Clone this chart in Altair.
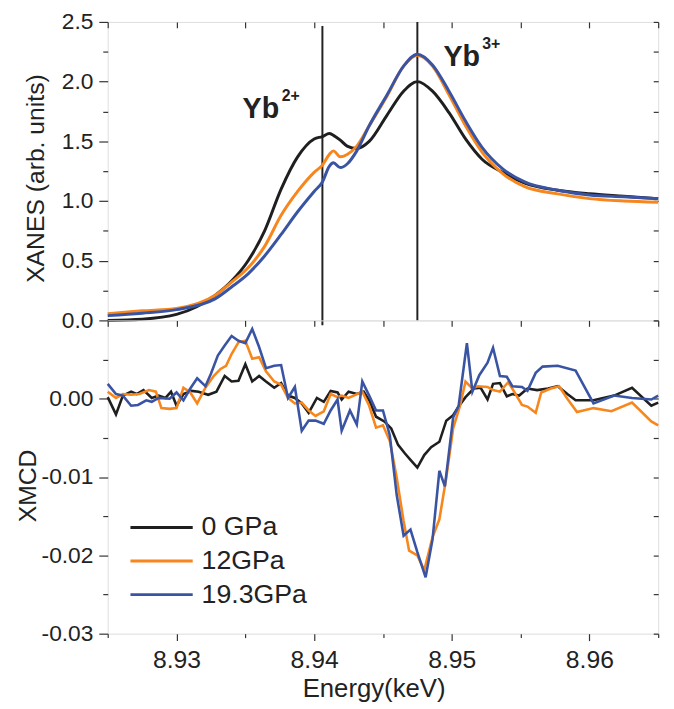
import altair as alt
import pandas as pd

FONT = "Liberation Sans"
SERIES = ["0 GPa", "12GPa", "19.3GPa"]
COLORS = ["#1f1f1f", "#f7861c", "#3a54a4"]

# ---------------- XANES (top panel) ----------------
XANES_E = [8.925, 8.9275, 8.930, 8.9328, 8.934, 8.9352, 8.9364, 8.9376, 8.9388, 8.940,
           8.9406, 8.9411, 8.9414, 8.9419, 8.9424, 8.9431, 8.944, 8.9453, 8.9465, 8.9475,
           8.9486, 8.9498, 8.951, 8.9522, 8.9537, 8.9553, 8.9577, 8.960, 8.9625, 8.965]
XANES_0 = [0.0, 0.01, 0.05, 0.21, 0.33, 0.50, 0.75, 1.10, 1.37, 1.52,
           1.54, 1.565, 1.55, 1.51, 1.46, 1.44, 1.50, 1.72, 1.92, 2.00,
           1.92, 1.74, 1.52, 1.35, 1.24, 1.15, 1.09, 1.06, 1.04, 1.02]
XANES_12 = [0.055, 0.08, 0.10, 0.21, 0.32, 0.44, 0.62, 0.88, 1.08, 1.24,
            1.30, 1.39, 1.42, 1.37, 1.39, 1.46, 1.63, 1.88, 2.13, 2.22,
            2.13, 1.89, 1.63, 1.41, 1.23, 1.12, 1.06, 1.02, 1.00, 0.99]
XANES_19 = [0.04, 0.06, 0.09, 0.18, 0.28, 0.39, 0.54, 0.72, 0.91, 1.08,
            1.16, 1.29, 1.32, 1.28, 1.31, 1.42, 1.63, 1.89, 2.13, 2.23,
            2.14, 1.92, 1.67, 1.45, 1.27, 1.16, 1.09, 1.05, 1.035, 1.02]

# ---------------- XMCD (bottom panel) ----------------
XMCD_E_0 = [8.9250, 8.9256, 8.9261, 8.9267, 8.9271, 8.9276, 8.9282, 8.9287, 8.9292, 8.9296,
            8.9300, 8.9305, 8.9311, 8.9316, 8.9323, 8.9329, 8.9335, 8.9340, 8.9345, 8.9350,
            8.9355, 8.9360, 8.9365, 8.9371, 8.9376, 8.9381, 8.9386, 8.9391, 8.9396, 8.9402,
            8.9407, 8.9412, 8.9417, 8.9420, 8.9425, 8.9431, 8.9436, 8.9440, 8.9445, 8.9451,
            8.9456, 8.9461, 8.9466, 8.9470, 8.9475, 8.9480, 8.9485, 8.9491, 8.9496, 8.9501,
            8.9505, 8.9510, 8.9516, 8.9521, 8.9526, 8.9530, 8.9535, 8.9540, 8.9544, 8.9549,
            8.9555, 8.9562, 8.9570, 8.9577, 8.9584, 8.9590, 8.9603, 8.9618, 8.9631, 8.9645,
            8.9650]
XMCD_0 = [0.0002, -0.0020, 0.0004, 0.0009, 0.0006, 0.0011, 0.0001, 0.0004, 0.0001, 0.0009,
          -0.0009, 0.0006, 0.0010, 0.0009, 0.0005, 0.0009, 0.0029, 0.0022, 0.0023, 0.0044,
          0.0022, 0.0029, 0.0022, 0.0014, 0.0020, 0.0004, 0.0001, -0.0006, -0.0018, 0.0001,
          -0.0004, 0.0010, 0.0008, -0.0001, 0.0009, 0.0006, 0.0009, -0.0002, -0.0023, -0.0029,
          -0.0038, -0.0059, -0.0070, -0.0078, -0.0088, -0.0072, -0.0062, -0.0055, -0.0028, -0.0021,
          -0.0010, 0.0002, 0.0013, 0.0014, -0.0001, 0.0019, 0.0020, 0.0003, 0.0006, 0.0004,
          0.0013, 0.0011, 0.0013, 0.0016, 0.0006, -0.0002, -0.0002, 0.0004, 0.0014, -0.0009,
          -0.0005]

XMCD_E_12 = [8.9250, 8.9256, 8.9261, 8.9267, 8.9273, 8.9280, 8.9285, 8.9289, 8.9295, 8.9300,
             8.9305, 8.9310, 8.9315, 8.9321, 8.9327, 8.9332, 8.9336, 8.9340, 8.9345, 8.9350,
             8.9355, 8.9360, 8.9365, 8.9371, 8.9376, 8.9381, 8.9386, 8.9391, 8.9396, 8.9401,
             8.9407, 8.9412, 8.9417, 8.9420, 8.9425, 8.9430, 8.9435, 8.9440, 8.9445, 8.9450,
             8.9455, 8.9460, 8.9465, 8.9469, 8.9475, 8.9480, 8.9486, 8.9491, 8.9496, 8.9501,
             8.9506, 8.9510, 8.9515, 8.9519, 8.9526, 8.9530, 8.9535, 8.9541, 8.9545, 8.9551,
             8.9555, 8.9561, 8.9565, 8.9572, 8.9578, 8.9584, 8.9591, 8.9603, 8.9616, 8.9631,
             8.9645, 8.9650]
XMCD_12 = [0.0009, 0.0001, 0.0006, 0.0005, 0.0006, 0.0011, 0.0009, -0.0012, -0.0013, -0.0012,
           0.0014, 0.0008, -0.0006, 0.0014, 0.0029, 0.0038, 0.0042, 0.0057, 0.0072, 0.0074,
           0.0051, 0.0053, 0.0035, 0.0022, 0.0018, 0.0001, -0.0006, -0.0005, -0.0015, -0.0022,
           -0.0016, 0.0006, 0.0002, 0.0004, 0.0001, 0.0005, 0.0009, -0.0009, -0.0037, -0.0034,
           -0.0054, -0.0101, -0.0156, -0.0194, -0.0200, -0.0219, -0.0177, -0.0154, -0.0101, -0.0038,
           -0.0009, 0.0022, 0.0013, 0.0016, 0.0015, 0.0011, 0.0009, 0.0021, 0.0010, -0.0008,
           -0.0010, -0.0018, 0.0008, 0.0013, 0.0016, 0.0000, -0.0017, -0.0012, -0.0016, -0.0005,
           -0.0029, -0.0034]

XMCD_E_19 = [8.9250, 8.9256, 8.9261, 8.9267, 8.9272, 8.9278, 8.9282, 8.9287, 8.9295, 8.9300,
             8.9305, 8.9310, 8.9315, 8.9321, 8.9325, 8.9330, 8.9335, 8.9340, 8.9345, 8.9350,
             8.9355, 8.9360, 8.9365, 8.9371, 8.9376, 8.9381, 8.9386, 8.9391, 8.9396, 8.9401,
             8.9407, 8.9412, 8.9417, 8.9420, 8.9426, 8.9431, 8.9435, 8.9440, 8.9445, 8.9450,
             8.9455, 8.9460, 8.9465, 8.9470, 8.9475, 8.9481, 8.9486, 8.9491, 8.9495, 8.9501,
             8.9505, 8.9511, 8.9515, 8.9520, 8.9526, 8.9530, 8.9535, 8.9540, 8.9544, 8.9551,
             8.9555, 8.9561, 8.9566, 8.9577, 8.9590, 8.9603, 8.9618, 8.9631, 8.9645, 8.9650]
XMCD_19 = [0.0019, 0.0006, 0.0004, -0.0009, -0.0008, -0.0002, -0.0004, 0.0001, 0.0000, 0.0008,
           -0.0002, 0.0013, 0.0026, 0.0016, 0.0032, 0.0055, 0.0068, 0.0080, 0.0074, 0.0071,
           0.0089, 0.0066, 0.0039, 0.0042, 0.0043, 0.0001, 0.0015, -0.0041, -0.0028, -0.0028,
           -0.0032, -0.0015, -0.0001, -0.0041, -0.0015, -0.0033, 0.0022, 0.0004, -0.0015, -0.0015,
           -0.0047, -0.0123, -0.0175, -0.0167, -0.0196, -0.0228, -0.0180, -0.0092, -0.0112, -0.0024,
           -0.0009, 0.0071, 0.0009, 0.0030, 0.0046, 0.0065, 0.0029, 0.0028, 0.0016, 0.0015,
           0.0010, 0.0033, 0.0041, 0.0042, 0.0036, -0.0006, 0.0004, 0.0001, -0.0001, 0.0004]

# axis tick values
X_TICKS = [8.925, 8.93, 8.935, 8.94, 8.945, 8.95, 8.955, 8.96, 8.965]
Y1_TICKS = [0.0, 0.25, 0.5, 0.75, 1.0, 1.25, 1.5, 1.75, 2.0, 2.25, 2.5]
Y2_TICKS = [-0.03, -0.025, -0.02, -0.015, -0.01, -0.005, 0.0, 0.005]

# annotations (data coordinates)
MARKER_E = [8.9406, 8.9475]
MARKER_TOP = [2.467, 2.5]
MARKER_BOTTOM = [-0.04, 0.0]
LABEL_E = [8.9348, 8.9494]
LABEL_V = [1.697, 2.127]
LABEL_TXT = ["Yb", "Yb"]
SUP_E = [8.93764, 8.95222]
SUP_V = [1.84, 2.276]
SUP_TXT = ["2+", "3+"]


def long_df(es, vs, name):
    return pd.DataFrame({"E": es, "v": vs, "series": name})


xanes = pd.concat([long_df(XANES_E, XANES_0, SERIES[0]),
                   long_df(XANES_E, XANES_12, SERIES[1]),
                   long_df(XANES_E, XANES_19, SERIES[2])], ignore_index=True)
xmcd = pd.concat([long_df(XMCD_E_0, XMCD_0, SERIES[0]),
                  long_df(XMCD_E_12, XMCD_12, SERIES[1]),
                  long_df(XMCD_E_19, XMCD_19, SERIES[2])], ignore_index=True)
markers = pd.DataFrame({"E": MARKER_E, "v": MARKER_TOP, "v2": MARKER_BOTTOM})
labels = pd.DataFrame({"E": LABEL_E, "v": LABEL_V, "t": LABEL_TXT})
sups = pd.DataFrame({"E": SUP_E, "v": SUP_V, "t": SUP_TXT})

W, H1, H2 = 557, 302, 317
INK = "#222222"
TICK = "#333333"

xscale = alt.Scale(domain=[8.925, 8.965], nice=False, zero=False)
y1scale = alt.Scale(domain=[0, 2.5], nice=False, zero=False)
y2scale = alt.Scale(domain=[-0.03, 0.01], nice=False, zero=False)
cscale = alt.Scale(domain=SERIES, range=COLORS)

MAJ_X = "abs(datum.value*100 - round(datum.value*100)) < 1e-6"
MAJ_Y1 = "abs(datum.value*2 - round(datum.value*2)) < 1e-6"
MAJ_Y2 = "abs(datum.value*100 - round(datum.value*100)) < 1e-6"

common_axis = dict(domain=False, grid=False, tickColor=TICK, tickWidth=1.2,
                   labelFont=FONT, titleFont=FONT, labelColor=INK, titleColor=INK,
                   titleFontWeight="normal")


def inner_axes(H, yticks):
    # ticks pointing into the plot on the top and right edges
    xa = alt.Axis(orient="bottom", offset=-H, values=X_TICKS, labels=False, tickSize=6,
                  title=None, **common_axis)
    ya = alt.Axis(orient="left", offset=-W, values=yticks, labels=False, tickSize=5,
                  title=None, **common_axis)
    return xa, ya


# ---------------- top panel ----------------
top_left = alt.Axis(orient="left", values=Y1_TICKS,
                    labelExpr=f"({MAJ_Y1}) ? format(datum.value, '.1f') : ''",
                    tickSize={"condition": {"test": MAJ_Y1, "value": 9}, "value": 5},
                    labelPadding=6, labelFontSize=23, title="XANES (arb. units)",
                    titleFontSize=25, titleX=-65, titleY=158, titleBaseline="alphabetic",
                    **common_axis)

t_lines = alt.Chart(xanes).mark_line(strokeWidth=3, interpolate="monotone").encode(
    x=alt.X("E:Q", scale=xscale, axis=None),
    y=alt.Y("v:Q", scale=y1scale, axis=top_left),
    color=alt.Color("series:N", scale=cscale, legend=None),
)
xa1, ya1 = inner_axes(H1, Y1_TICKS)
t_axes = alt.Chart(xanes).mark_point(opacity=0, size=1).encode(
    x=alt.X("E:Q", scale=xscale, axis=xa1),
    y=alt.Y("v:Q", scale=y1scale, axis=ya1),
)
t_rules = alt.Chart(markers).mark_rule(color=INK, strokeWidth=2).encode(
    x=alt.X("E:Q", scale=xscale, axis=None),
    y=alt.Y("v:Q", scale=y1scale, axis=None),
    y2="v2:Q",
)
t_text = alt.Chart(labels).mark_text(font=FONT, fontSize=29, fontWeight="bold", color=INK,
                                     align="left", baseline="alphabetic").encode(
    x=alt.X("E:Q", scale=xscale, axis=None),
    y=alt.Y("v:Q", scale=y1scale, axis=None),
    text="t:N",
)
t_sup = alt.Chart(sups).mark_text(font=FONT, fontSize=16, fontWeight="bold", color=INK,
                                  align="left", baseline="alphabetic").encode(
    x=alt.X("E:Q", scale=xscale, axis=None),
    y=alt.Y("v:Q", scale=y1scale, axis=None),
    text="t:N",
)
top = alt.layer(t_axes, t_rules, t_lines, t_text, t_sup).resolve_axis(
    x="independent", y="independent").properties(width=W, height=H1)

# ---------------- bottom panel ----------------
bot_left = alt.Axis(orient="left", values=Y2_TICKS,
                    labelExpr=f"({MAJ_Y2}) ? replace(format(datum.value, '.2f'), '\u2212', '-') : ''",
                    tickSize={"condition": {"test": MAJ_Y2, "value": 9}, "value": 5},
                    labelPadding=6, labelFontSize=23, title="XMCD",
                    titleFontSize=25, titleX=-73, titleY=167, titleBaseline="alphabetic",
                    **common_axis)
bot_x = alt.Axis(orient="bottom", values=X_TICKS,
                 labelExpr=f"({MAJ_X}) ? format(datum.value, '.2f') : ''",
                 tickSize={"condition": {"test": MAJ_X, "value": 7}, "value": 4},
                 labelPadding=7, labelFontSize=25, title="Energy(keV)", titleFontSize=26,
                 titleX=269, titleY=64, titleBaseline="alphabetic", **common_axis)

legend = alt.Legend(orient="none", legendX=41, legendY=196, title=None,
                    symbolType="M-3,0L3,0", symbolSize=441, symbolStrokeWidth=3,
                    labelFont=FONT, labelFontSize=27, labelColor=INK, labelOffset=27,
                    rowPadding=6, padding=0)

b_lines = alt.Chart(xmcd).mark_line(strokeWidth=2.6).encode(
    x=alt.X("E:Q", scale=xscale, axis=bot_x),
    y=alt.Y("v:Q", scale=y2scale, axis=bot_left),
    color=alt.Color("series:N", scale=cscale, legend=legend),
)
xa2, ya2 = inner_axes(H2, Y2_TICKS + [0.01])
b_axes = alt.Chart(xmcd).mark_point(opacity=0, size=1).encode(
    x=alt.X("E:Q", scale=xscale, axis=xa2),
    y=alt.Y("v:Q", scale=y2scale, axis=ya2),
)
bottom = alt.layer(b_axes, b_lines).resolve_axis(
    x="independent", y="independent").properties(width=W, height=H2)

chart = alt.vconcat(top, bottom, spacing=0, bounds="flush").resolve_scale(
    color="independent"
).properties(
    padding={"left": 15, "top": 6, "right": 9, "bottom": 0},
    background="white",
).configure_view(stroke=TICK, strokeWidth=1.2).configure(font=FONT)

chart.save("out.html", embed_options={"renderer": "svg", "actions": False})
